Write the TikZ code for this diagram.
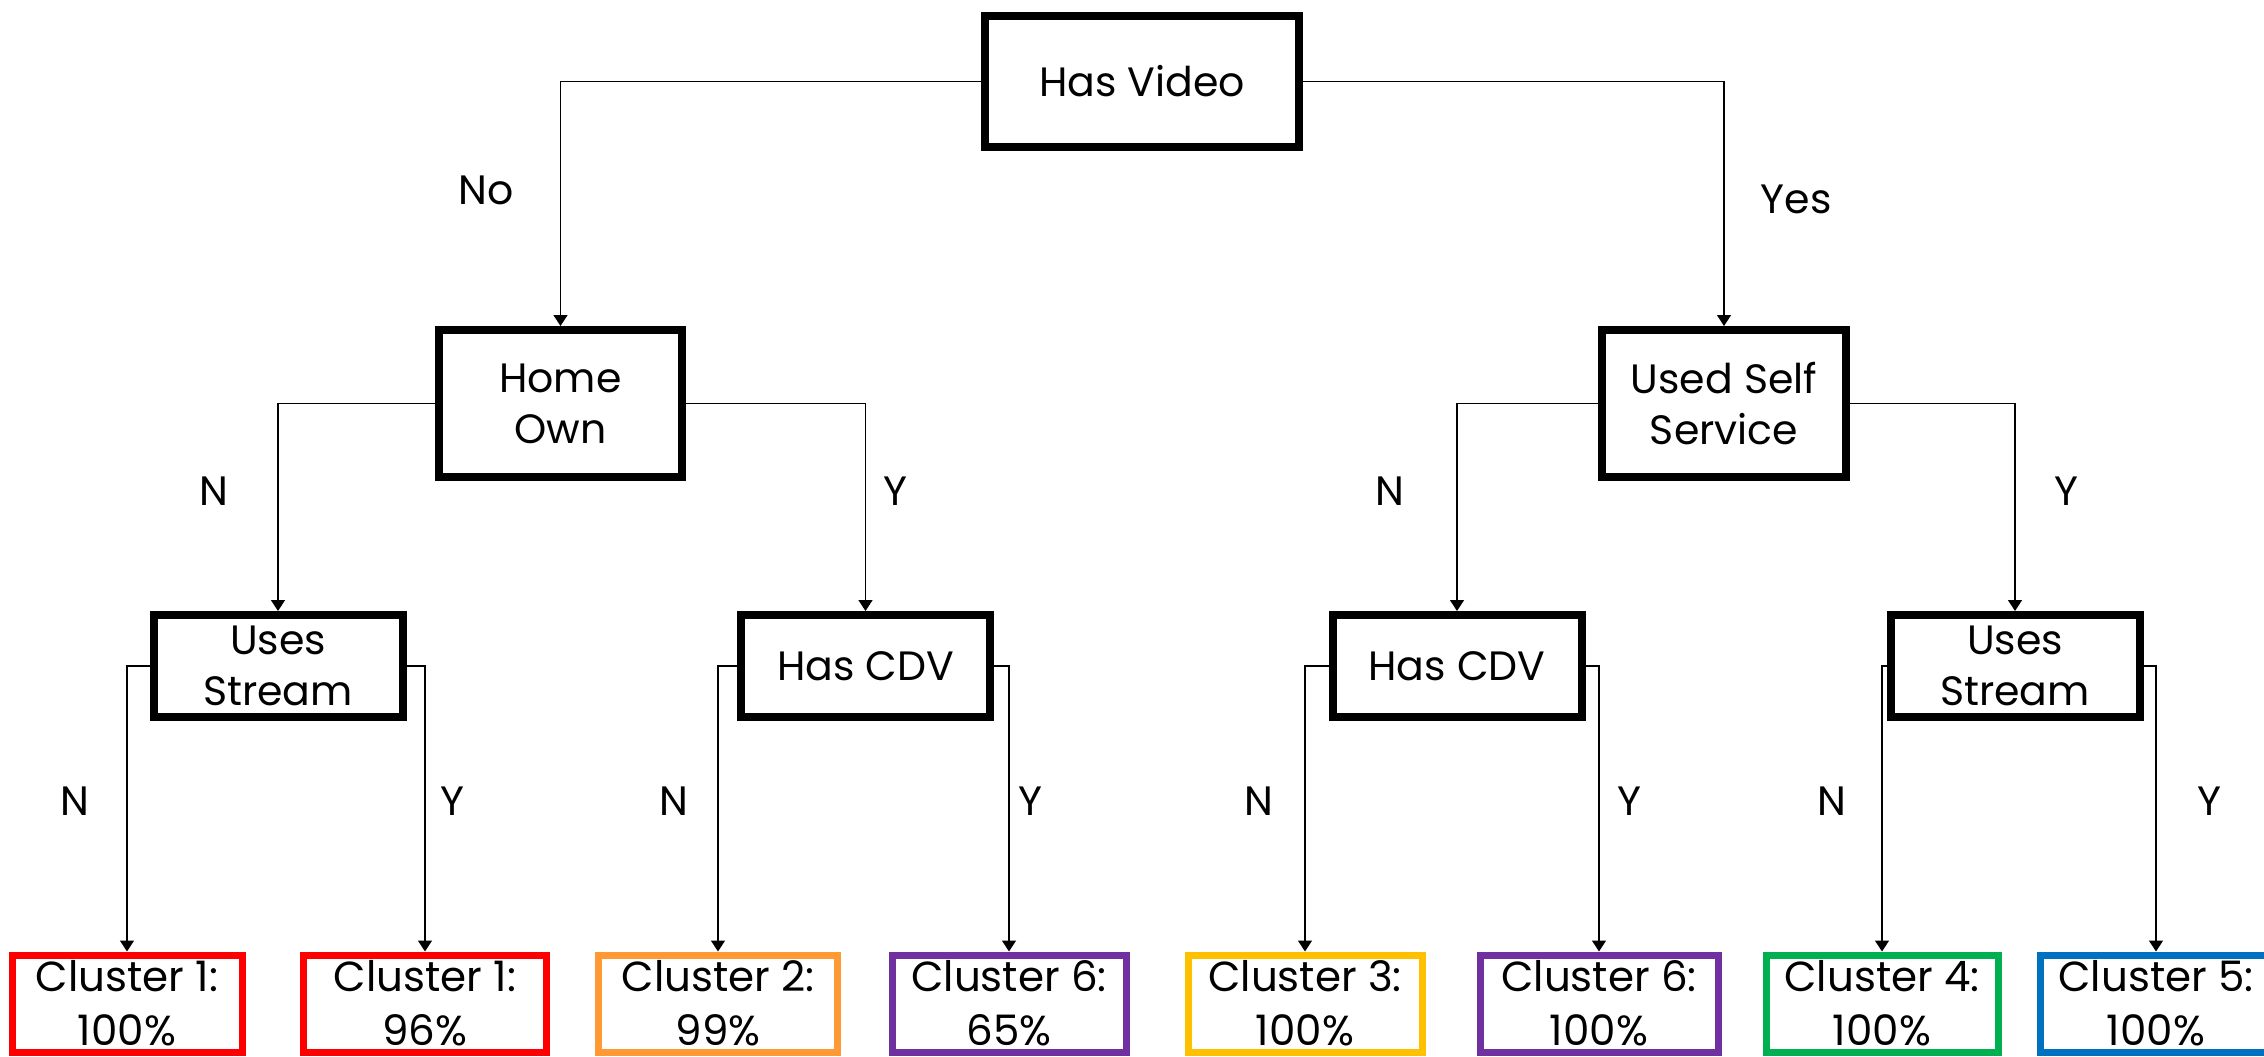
\documentclass[tikz,border=0pt]{standalone}
\usepackage{fontspec}
\setmainfont{Poppins}
\usetikzlibrary{arrows.meta}
\begin{document}
\begin{tikzpicture}[x=1pt,y=-1pt,
  box/.style={draw=black,line width=8pt,fill=white,inner sep=0pt,align=center,
    font=\fontsize{41}{51}\selectfont},
  midbox/.style={box,minimum width=249pt,minimum height=102pt,font=\fontsize{41}{51}\selectfont},
  leaf/.style={draw=#1,line width=7pt,fill=white,inner sep=0pt,align=center,
    minimum height=97pt,font=\fontsize{42}{54}\selectfont},
  conn/.style={draw=black,line width=1.4pt,-{Triangle[width=14pt,length=11pt]}},
  lbl/.style={font=\fontsize{41}{43}\selectfont,inner sep=0pt}]
\definecolor{cred}{HTML}{FF0000}
\definecolor{corange}{HTML}{FF9933}
\definecolor{cpurple}{HTML}{7030A0}
\definecolor{cyellow}{HTML}{FFC000}
\definecolor{cgreen}{HTML}{00B050}
\definecolor{cblue}{HTML}{0070C0}
\useasboundingbox (0,0) rectangle (2264,1057);
% top
\node[box,minimum width=314pt,minimum height=131pt] (hv) at (1142,81.5) {Has Video};
% level 2
\node[box,minimum width=243pt,minimum height=147pt] (ho) at (560.5,403.5) {Home\\Own};
\node[box,minimum width=244pt,minimum height=147pt] (us) at (1724,403.5) {Used Self\\Service};
% level 3
\node[midbox] (st1) at (278,666) {Uses\\Stream};
\node[midbox] (cd1) at (865.5,666) {Has CDV};
\node[midbox] (cd2) at (1457,666) {Has CDV};
\node[midbox] (st2) at (2015,666) {Uses\\Stream};
% leaves
\node[leaf=cred,minimum width=230pt] (l1) at (127,1003.5) {Cluster 1:\\100\%};
\node[leaf=cred,minimum width=243pt] (l2) at (425,1003.5) {Cluster 1:\\96\%};
\node[leaf=corange,minimum width=239pt] (l3) at (718,1003.5) {Cluster 2:\\99\%};
\node[leaf=cpurple,minimum width=234pt] (l4) at (1009,1003.5) {Cluster 6:\\65\%};
\node[leaf=cyellow,minimum width=234pt] (l5) at (1305,1003.5) {Cluster 3:\\100\%};
\node[leaf=cpurple,minimum width=238pt] (l6) at (1599,1003.5) {Cluster 6:\\100\%};
\node[leaf=cgreen,minimum width=232pt] (l7) at (1882,1003.5) {Cluster 4:\\100\%};
\node[leaf=cblue,minimum width=231pt] (l8) at (2156,1003.5) {Cluster 5:\\100\%};
% connectors
\draw[conn] (hv.west) -| (ho.north);
\draw[conn] (hv.east) -| (us.north);
\draw[conn] (ho.west) -| (st1.north);
\draw[conn] (ho.east) -| (cd1.north);
\draw[conn] (us.west) -| (cd2.north);
\draw[conn] (us.east) -| (st2.north);
\draw[conn] (st1.west) -| (l1.north);
\draw[conn] (st1.east) -| (l2.north);
\draw[conn] (cd1.west) -| (l3.north);
\draw[conn] (cd1.east) -| (l4.north);
\draw[conn] (cd2.west) -| (l5.north);
\draw[conn] (cd2.east) -| (l6.north);
\draw[conn] (st2.west) -| (l7.north);
\draw[conn] (st2.east) -| (l8.north);
% labels
\node[lbl] (tno) at (486,190) {No};
\node[lbl] (tyes) at (1796,199) {Yes};
\node[lbl] (a1) at (214,491) {N};
\node[lbl] (a2) at (895,491) {Y};
\node[lbl] (a3) at (1390,491) {N};
\node[lbl] (a4) at (2066,491) {Y};
\node[lbl] (b1) at (75,801) {N};
\node[lbl] (b2) at (452,801) {Y};
\node[lbl] (b3) at (674,801) {N};
\node[lbl] (b4) at (1030,801) {Y};
\node[lbl] (b5) at (1259,801) {N};
\node[lbl] (b6) at (1629,801) {Y};
\node[lbl] (b7) at (1832,801) {N};
\node[lbl] (b8) at (2209,801) {Y};
\end{tikzpicture}
\end{document}
